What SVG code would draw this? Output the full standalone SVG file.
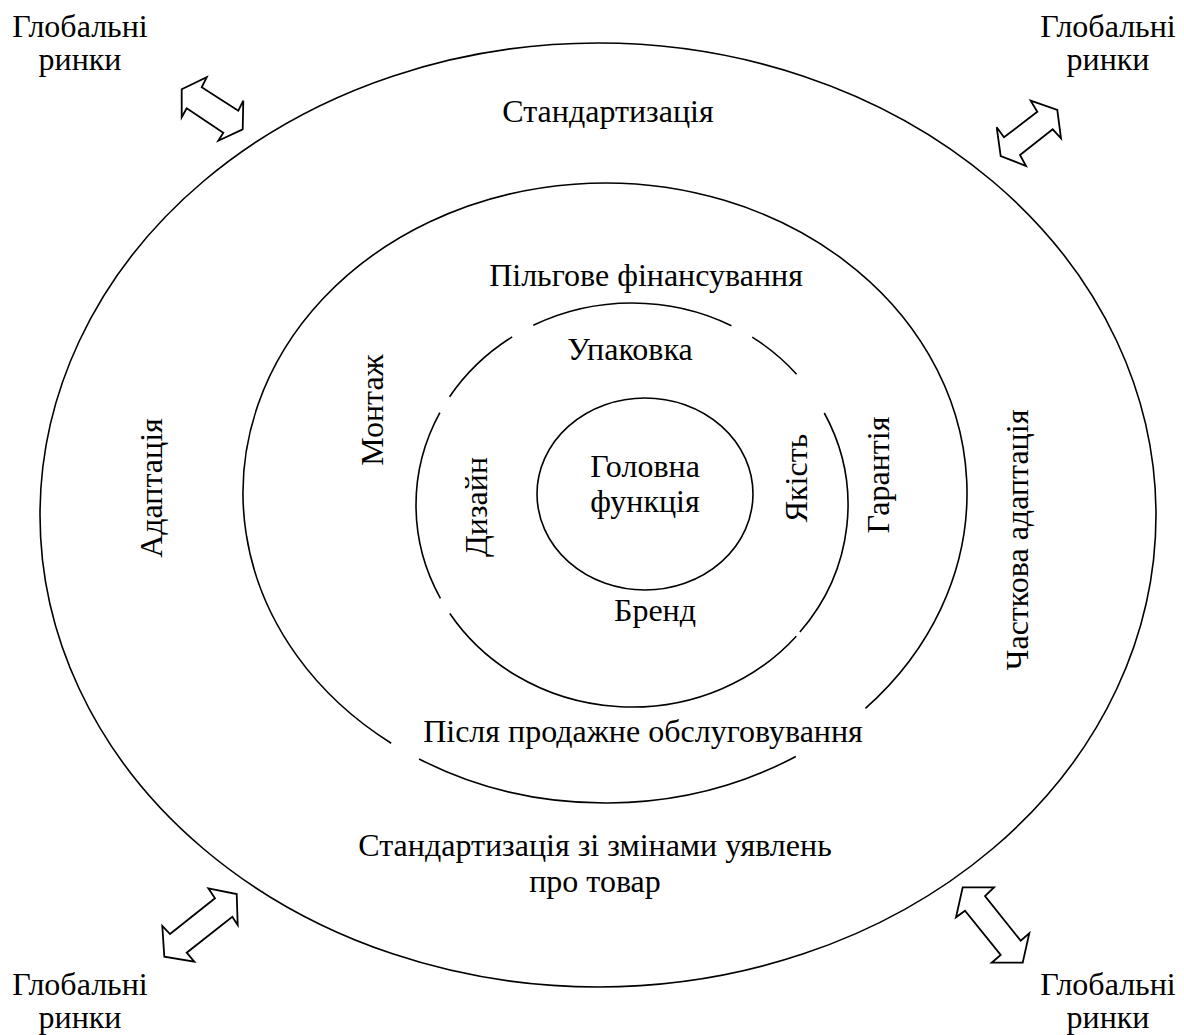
<svg xmlns="http://www.w3.org/2000/svg" width="1184" height="1035" viewBox="0 0 1184 1035">
<style>
.ring{fill:none;stroke:#000;stroke-width:1.6}
.arr{fill:#fff;stroke:#000;stroke-width:1.8;stroke-linejoin:miter}
text{font-family:"Liberation Serif","Times New Roman",serif;font-size:32px;fill:#000;text-anchor:middle}
</style>
<rect width="1184" height="1035" fill="#fff"/>
<g id="connectors">
<polygon class="arr" points="206.7,77.3 201.7,87.3 238.3,110.7 243.3,100.7 242.7,129.3 218.3,140.7 223.3,132.7 186.7,108.3 181.7,117.3 181.7,89.3"/>
<polygon class="arr" points="1030.7,100.7 1057.3,110 1061,138.3 1052.7,129.3 1020,155 1026,166 1000.7,156 996.7,127.3 1004,137.3 1037.3,111.7"/>
<polygon class="arr" points="208.3,888.3 236.7,894 237.7,925 232.3,916.7 186.7,952.7 194.3,961.7 164.3,956.7 162.3,926 170,934 215,898.3"/>
<polygon class="arr" points="962.7,887.3 994,887.3 985,896 1020.7,940.7 1029.3,933.3 1022.7,962.7 991.7,962.7 1000.7,955 965,910.7 956,917.3"/>
</g>
<g id="global-tl"><text x="80" y="37">Глобальні<tspan x="80" dy="33">ринки</tspan></text></g>
<g id="global-tr"><text x="1108" y="37">Глобальні<tspan x="1108" dy="33">ринки</tspan></text></g>
<g id="global-bl"><text x="80" y="995">Глобальні<tspan x="80" dy="33">ринки</tspan></text></g>
<g id="global-br"><text x="1108" y="995">Глобальні<tspan x="1108" dy="33">ринки</tspan></text></g>
<g id="ring-outer">
<ellipse class="ring" cx="598" cy="515" rx="558" ry="472"/>
<text x="608" y="122">Стандартизація</text>
<text transform="translate(162,488) rotate(-90)">Адаптація</text>
<text transform="translate(1028,540) rotate(-90)">Часткова адаптація</text>
<text x="595" y="856">Стандартизація зі змінами уявлень<tspan x="595" dy="36">про товар</tspan></text>
</g>
<g id="ring-second">
<path class="ring" d="M391.2,743.2 A362,310 0 1 1 865.4,708.4"/>
<path class="ring" d="M795.8,756.5 A362,310 0 0 1 419.1,759"/>
<text x="646" y="286">Пільгове фінансування</text>
<text transform="translate(383,410) rotate(-90)">Монтаж</text>
<text transform="translate(889,475) rotate(-90)">Гарантія</text>
<text x="643" y="742">Після продажне обслуговування</text>
</g>
<g id="ring-third">
<path class="ring" d="M533.3,325.3 A216,202 0 0 1 731.4,325.7"/>
<path class="ring" d="M752.2,337.1 A216,202 0 0 1 796.6,374.2"/>
<path class="ring" d="M824.3,413 A216,202 0 0 1 799.9,632.1"/>
<path class="ring" d="M796.3,636.2 A216,202 0 0 1 449.8,613.5"/>
<path class="ring" d="M440.4,598.3 A216,202 0 0 1 439.9,412.7"/>
<path class="ring" d="M449.6,396.8 A216,202 0 0 1 512.2,336.9"/>
<text x="630" y="360">Упаковка</text>
<text transform="translate(487,507) rotate(-90)">Дизайн</text>
<text transform="translate(807,478) rotate(-90)">Якість</text>
<text x="655" y="621">Бренд</text>
</g>
<g id="core">
<ellipse class="ring" cx="645" cy="494" rx="108" ry="96"/>
<text x="645" y="477">Головна<tspan x="645" dy="35">функція</tspan></text>
</g>
</svg>
